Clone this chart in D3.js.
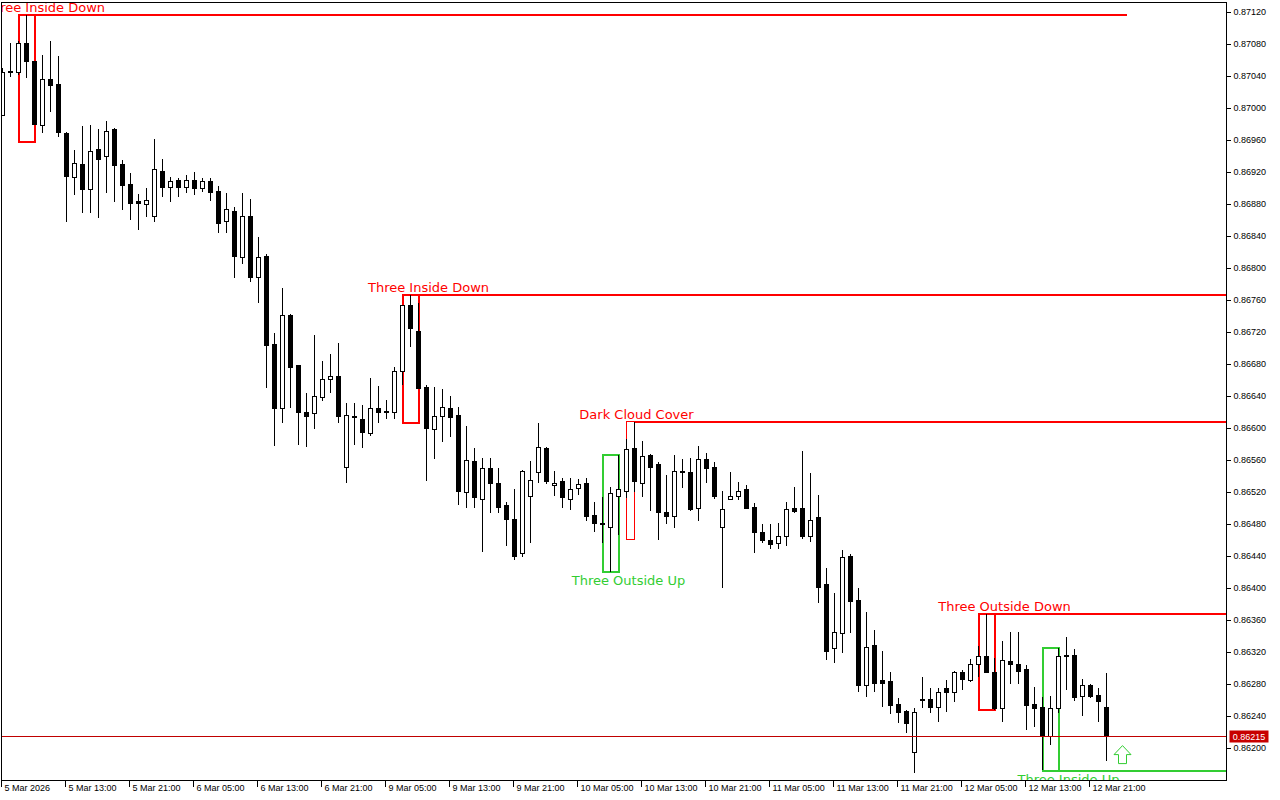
<!DOCTYPE html>
<html>
<head>
<meta charset="utf-8">
<title>H1 candlestick patterns</title>
<script src="https://cdn.jsdelivr.net/npm/d3@7"></script>
<style>
    body { margin: 0; background: #ffffff; }
    svg { display: block; }
    .axis text { font-family: 'Liberation Sans', Arial, sans-serif; font-size: 9px; fill: #000; }
    .axis line { stroke: #000; shape-rendering: crispEdges; }
    .pattern-label { font-family: 'DejaVu Sans', Verdana, sans-serif; font-size: 13px; }
    .candle line, .candle rect, .pattern rect, .pattern line { shape-rendering: crispEdges; }
</style>
</head>
<body>
<div id="chart"></div>
<script>
// time labels, one every 8 bars (H1)
const timeLabels = ['5 Mar 2026', '5 Mar 13:00', '5 Mar 21:00', '6 Mar 05:00', '6 Mar 13:00', '6 Mar 21:00',
    '9 Mar 05:00', '9 Mar 13:00', '9 Mar 21:00', '10 Mar 05:00', '10 Mar 13:00', '10 Mar 21:00',
    '11 Mar 05:00', '11 Mar 13:00', '11 Mar 21:00', '12 Mar 05:00', '12 Mar 13:00', '12 Mar 21:00'];

// price scale ticks
const priceTicks = [0.87120, 0.87080, 0.87040, 0.87000, 0.86960, 0.86920, 0.86880, 0.86840, 0.86800, 0.86760,
    0.86720, 0.86680, 0.86640, 0.86600, 0.86560, 0.86520, 0.86480, 0.86440, 0.86400, 0.86360,
    0.86320, 0.86280, 0.86240, 0.86200];

// OHLC, bar 0 = 5 Mar 05:00
const opens = [0.86991, 0.87046, 0.87045, 0.87081, 0.87058, 0.86978, 0.87036, 0.87029, 0.86968, 0.86913,
    0.86929, 0.86898, 0.86948, 0.86939, 0.86973, 0.86930, 0.86904, 0.86883, 0.86880, 0.86864,
    0.86921, 0.86901, 0.86909, 0.86901, 0.86910, 0.86899, 0.86908, 0.86896, 0.86858, 0.86871,
    0.86813, 0.86865, 0.86788, 0.86814, 0.86704, 0.86625, 0.86741, 0.86678, 0.86620, 0.86618,
    0.86638, 0.86661, 0.86664, 0.86551, 0.86614, 0.86611, 0.86593, 0.86625, 0.86621, 0.86620,
    0.86671, 0.86753, 0.86721, 0.86651, 0.86598, 0.86614, 0.86625, 0.86616, 0.86520, 0.86558,
    0.86511, 0.86549, 0.86531, 0.86503, 0.86486, 0.86443, 0.86515, 0.86545, 0.86575, 0.86528,
    0.86533, 0.86511, 0.86524, 0.86531, 0.86491, 0.86481, 0.86476, 0.86515, 0.86521, 0.86574,
    0.86531, 0.86566, 0.86554, 0.86494, 0.86490, 0.86546, 0.86545, 0.86500, 0.86561, 0.86551,
    0.86476, 0.86511, 0.86514, 0.86523, 0.86501, 0.86469, 0.86459, 0.86456, 0.86465, 0.86499,
    0.86500, 0.86464, 0.86488, 0.86404, 0.86324, 0.86343, 0.86440, 0.86384, 0.86278, 0.86328,
    0.86284, 0.86283, 0.86254, 0.86246, 0.86195, 0.86259, 0.86261, 0.86251, 0.86274, 0.86270,
    0.86295, 0.86285, 0.86305, 0.86315, 0.86295, 0.86249, 0.86308, 0.86305, 0.86298, 0.86255,
    0.86251, 0.86214, 0.86249, 0.86316, 0.86316, 0.86264, 0.86278, 0.86266, 0.86251];
const highs = [0.87050, 0.87081, 0.87084, 0.87116, 0.87058, 0.87066, 0.87084, 0.87065, 0.86970, 0.86948,
    0.86978, 0.86979, 0.86974, 0.86984, 0.86975, 0.86935, 0.86919, 0.86893, 0.86900, 0.86961,
    0.86936, 0.86914, 0.86913, 0.86916, 0.86920, 0.86913, 0.86913, 0.86903, 0.86894, 0.86876,
    0.86894, 0.86886, 0.86839, 0.86818, 0.86719, 0.86775, 0.86743, 0.86678, 0.86644, 0.86716,
    0.86684, 0.86693, 0.86706, 0.86631, 0.86631, 0.86629, 0.86663, 0.86653, 0.86635, 0.86676,
    0.86753, 0.86766, 0.86756, 0.86654, 0.86651, 0.86649, 0.86640, 0.86626, 0.86603, 0.86575,
    0.86563, 0.86563, 0.86550, 0.86508, 0.86524, 0.86548, 0.86559, 0.86606, 0.86576, 0.86546,
    0.86538, 0.86538, 0.86536, 0.86538, 0.86508, 0.86514, 0.86526, 0.86566, 0.86586, 0.86608,
    0.86584, 0.86568, 0.86558, 0.86541, 0.86566, 0.86561, 0.86563, 0.86578, 0.86569, 0.86558,
    0.86521, 0.86545, 0.86533, 0.86529, 0.86506, 0.86480, 0.86480, 0.86481, 0.86508, 0.86526,
    0.86571, 0.86544, 0.86516, 0.86425, 0.86394, 0.86448, 0.86443, 0.86400, 0.86370, 0.86348,
    0.86321, 0.86295, 0.86263, 0.86248, 0.86250, 0.86289, 0.86275, 0.86275, 0.86285, 0.86296,
    0.86298, 0.86311, 0.86328, 0.86368, 0.86313, 0.86334, 0.86345, 0.86345, 0.86304, 0.86276,
    0.86264, 0.86265, 0.86325, 0.86339, 0.86324, 0.86286, 0.86280, 0.86275, 0.86294];
const lows = [0.86990, 0.87039, 0.87041, 0.87038, 0.86980, 0.86969, 0.86995, 0.86964, 0.86858, 0.86891,
    0.86869, 0.86869, 0.86863, 0.86894, 0.86883, 0.86873, 0.86860, 0.86848, 0.86864, 0.86858,
    0.86889, 0.86883, 0.86889, 0.86894, 0.86891, 0.86895, 0.86884, 0.86844, 0.86844, 0.86788,
    0.86805, 0.86783, 0.86756, 0.86650, 0.86578, 0.86606, 0.86625, 0.86579, 0.86576, 0.86599,
    0.86634, 0.86644, 0.86606, 0.86531, 0.86579, 0.86575, 0.86590, 0.86606, 0.86611, 0.86611,
    0.86654, 0.86701, 0.86649, 0.86534, 0.86561, 0.86583, 0.86589, 0.86504, 0.86500, 0.86500,
    0.86445, 0.86494, 0.86494, 0.86453, 0.86435, 0.86439, 0.86456, 0.86531, 0.86530, 0.86515,
    0.86500, 0.86498, 0.86516, 0.86484, 0.86470, 0.86456, 0.86420, 0.86466, 0.86513, 0.86520,
    0.86514, 0.86496, 0.86460, 0.86480, 0.86475, 0.86525, 0.86496, 0.86484, 0.86531, 0.86511,
    0.86400, 0.86510, 0.86510, 0.86499, 0.86444, 0.86456, 0.86449, 0.86449, 0.86453, 0.86494,
    0.86461, 0.86458, 0.86381, 0.86310, 0.86306, 0.86319, 0.86344, 0.86270, 0.86264, 0.86270,
    0.86251, 0.86243, 0.86231, 0.86219, 0.86169, 0.86250, 0.86244, 0.86233, 0.86245, 0.86258,
    0.86273, 0.86283, 0.86289, 0.86294, 0.86248, 0.86233, 0.86280, 0.86280, 0.86223, 0.86226,
    0.86173, 0.86204, 0.86244, 0.86273, 0.86259, 0.86240, 0.86263, 0.86233, 0.86184];
const closes = [0.87045, 0.87044, 0.87081, 0.87058, 0.86980, 0.87036, 0.87028, 0.86969, 0.86914, 0.86931,
    0.86898, 0.86946, 0.86936, 0.86971, 0.86928, 0.86903, 0.86881, 0.86881, 0.86884, 0.86923,
    0.86901, 0.86908, 0.86901, 0.86910, 0.86899, 0.86908, 0.86895, 0.86856, 0.86873, 0.86814,
    0.86864, 0.86788, 0.86813, 0.86703, 0.86625, 0.86741, 0.86676, 0.86619, 0.86615, 0.86639,
    0.86661, 0.86665, 0.86615, 0.86616, 0.86613, 0.86594, 0.86625, 0.86620, 0.86619, 0.86671,
    0.86753, 0.86724, 0.86649, 0.86600, 0.86614, 0.86626, 0.86613, 0.86521, 0.86559, 0.86513,
    0.86549, 0.86531, 0.86501, 0.86486, 0.86439, 0.86546, 0.86534, 0.86576, 0.86533, 0.86531,
    0.86513, 0.86523, 0.86530, 0.86490, 0.86481, 0.86480, 0.86518, 0.86523, 0.86573, 0.86533,
    0.86564, 0.86551, 0.86494, 0.86490, 0.86546, 0.86544, 0.86498, 0.86561, 0.86549, 0.86514,
    0.86498, 0.86515, 0.86521, 0.86500, 0.86469, 0.86460, 0.86454, 0.86465, 0.86498, 0.86496,
    0.86464, 0.86485, 0.86401, 0.86321, 0.86344, 0.86438, 0.86383, 0.86278, 0.86326, 0.86281,
    0.86281, 0.86253, 0.86245, 0.86231, 0.86245, 0.86261, 0.86251, 0.86269, 0.86270, 0.86294,
    0.86286, 0.86305, 0.86315, 0.86295, 0.86249, 0.86310, 0.86305, 0.86296, 0.86253, 0.86249,
    0.86214, 0.86249, 0.86315, 0.86314, 0.86263, 0.86278, 0.86264, 0.86258, 0.86215];

// detected patterns: bar range, box prices, where the level line stops, where the label sits (bar index)
const patterns = [
    { name: 'Three Inside Down', first: 2, last: 4, high: 0.87116, low: 0.86958, bull: false, lineTo: 140.56, labelAt: 5.25 },
    { name: 'Three Inside Down', first: 50, last: 52, high: 0.86766, low: 0.86606, bull: false, lineTo: 153, labelAt: 53.25 },
    { name: 'Three Outside Up', first: 75, last: 77, high: 0.86566, low: 0.86420, bull: true, lineTo: null, labelAt: 78.25 },
    { name: 'Dark Cloud Cover', first: 78, last: 79, high: 0.86608, low: 0.86461, bull: false, lineTo: 153, labelAt: 79.25 },
    { name: 'Three Outside Down', first: 122, last: 124, high: 0.86368, low: 0.86248, bull: false, lineTo: 153, labelAt: 125.25 },
    { name: 'Three Inside Up', first: 130, last: 132, high: 0.86325, low: 0.86171, bull: true, lineTo: 153, labelAt: 133.25 }
];

// buy signal arrow
const signalBar = 140;
const signalPrice = 0.86203;

const BEAR = '#ff0000', BULL = '#32cd32';

class CandleChart
{
    // Attributes
    width; height; frame;           // size, frame = [left, top, right, bottom] pixel lines
    svg; body; axisX; axisY;        // selections
    scaleX; scaleY;

    constructor(container, width, height, frame) {
        this.width = width;
        this.height = height;
        this.frame = frame;

        this.svg = d3.select(container)
            .append('svg')
            .attr('width', width)
            .attr('height', height);

        // plot area clip, everything inside the frame
        this.svg.append('defs').append('clipPath').attr('id', 'plot-clip')
            .append('rect')
            .attr('x', frame[0] + 1).attr('y', frame[1] + 1)
            .attr('width', frame[2] - frame[0] - 1)
            .attr('height', frame[3] - frame[1] - 1);

        this.body = this.svg.append('g').attr('clip-path', 'url(#plot-clip)');

        this.axisX = this.svg.append('g').classed('axis', true)
            .attr('transform', `translate(-1, ${frame[3] + 0.5})`);
        this.axisY = this.svg.append('g').classed('axis', true)
            .attr('transform', `translate(${frame[2] + 0.5}, 0.5)`);
    }

    #updateScales() {
        // 8 px per bar, price 0.001 = 80 px
        this.scaleX = d3.scaleLinear([0, 152], [2.5, 2.5 + 152 * 8]);
        this.scaleY = d3.scaleLinear([0.86200, 0.87120], [748, 12]);
    }

    #updateAxes() {
        let axisGenX = d3.axisBottom(this.scaleX)
            .tickValues(timeLabels.map((d, i) => i * 8))
            .tickFormat((d, i) => timeLabels[i])
            .tickSize(6)
            .offset(0);
        this.axisX.call(axisGenX);
        this.axisX.select('.domain').remove();
        this.axisX.selectAll('text')
            .attr('text-anchor', 'start')
            .attr('x', 3)
            .attr('y', 4);

        let axisGenY = d3.axisRight(this.scaleY)
            .tickValues(priceTicks)
            .tickFormat(d3.format('.5f'))
            .tickSize(4)
            .tickPadding(3)
            .offset(0);
        this.axisY.call(axisGenY);
        this.axisY.select('.domain').remove();
    }

    #updatePatterns() {
        const x = this.scaleX, y = this.scaleY;
        let g = this.body.append('g').classed('pattern', true);

        patterns.forEach(p => {
            let color = p.bull ? BULL : BEAR;
            g.append('rect')
                .attr('x', x(p.first))
                .attr('y', y(p.high))
                .attr('width', x(p.last) - x(p.first))
                .attr('height', y(p.low) - y(p.high))
                .attr('fill', 'none')
                .attr('stroke', color)
                .attr('stroke-width', p.last - p.first > 1 ? 2 : 1);

            // level line from the pattern to the right
            let level = p.bull ? p.low : p.high;
            if (p.lineTo !== null) {
                g.append('line')
                    .attr('x1', x(p.last)).attr('x2', x(p.lineTo))
                    .attr('y1', y(level)).attr('y2', y(level))
                    .attr('stroke', color)
                    .attr('stroke-width', 2);
            }

            g.append('text')
                .classed('pattern-label', true)
                .attr('x', x(p.labelAt))
                .attr('y', p.bull ? y(p.low) + 13 : y(p.high) - 3)
                .attr('text-anchor', 'middle')
                .attr('fill', color)
                .text(p.name);
        });
    }

    #updateCandles() {
        const x = this.scaleX, y = this.scaleY;
        let bars = closes.map((c, i) => ({ i, o: opens[i], h: highs[i], l: lows[i], c }));

        let g = this.body.append('g').classed('candle', true);
        g.selectAll('line.wick')
            .data(bars)
            .join('line')
            .classed('wick', true)
            .attr('x1', d => x(d.i)).attr('x2', d => x(d.i))
            .attr('y1', d => y(d.h)).attr('y2', d => y(d.l))
            .attr('stroke', '#000');

        g.selectAll('rect.body')
            .data(bars)
            .join('rect')
            .classed('body', true)
            .attr('x', d => x(d.i) - 2)
            .attr('width', 4)
            .attr('y', d => y(Math.max(d.o, d.c)))
            .attr('height', d => Math.max(Math.abs(y(d.o) - y(d.c)), 0.01))
            .attr('fill', d => d.c >= d.o ? '#fff' : '#000')
            .attr('stroke', '#000');
    }

    #updateMarkers() {
        const x = this.scaleX, y = this.scaleY;
        let last = closes[closes.length - 1];

        // current price line
        this.body.append('line')
            .attr('x1', this.frame[0]).attr('x2', this.frame[2])
            .attr('y1', Math.round(y(last)) + 0.5).attr('y2', Math.round(y(last)) + 0.5)
            .attr('stroke', '#c00000');

        // up arrow
        let ax = x(signalBar), ay = y(signalPrice);
        let arrow = [[0, 0], [8.5, 9], [4, 9], [4, 18], [-4, 18], [-4, 9], [-8.5, 9]]
            .map(([dx, dy]) => [ax + dx, ay + dy]);
        this.body.append('path')
            .attr('d', d3.line()(arrow) + 'Z')
            .attr('fill', '#fff')
            .attr('stroke', BULL);

        // price tag on the axis
        let py = Math.round(y(last)) + 0.5;
        this.svg.append('rect')
            .attr('x', this.frame[2] + 3.5).attr('y', py - 6)
            .attr('width', 39).attr('height', 12)
            .attr('fill', '#c80000');
        this.svg.append('text')
            .attr('x', this.frame[2] + 23).attr('y', py)
            .attr('dy', '0.35em')
            .attr('text-anchor', 'middle')
            .style('font-family', "'Liberation Sans', Arial, sans-serif")
            .style('font-size', '9px')
            .attr('fill', '#fff')
            .text(d3.format('.5f')(last));
    }

    #drawFrame() {
        const f = this.frame;
        this.svg.append('rect')
            .attr('x', f[0] + 0.5).attr('y', f[1] + 0.5)
            .attr('width', f[2] - f[0]).attr('height', f[3] - f[1])
            .attr('fill', 'none')
            .attr('stroke', '#000');
    }

    // Public API
    render() {
        this.#updateScales();
        this.#updatePatterns();
        this.#updateCandles();
        this.#updateMarkers();
        this.#updateAxes();
        this.#drawFrame();
        return this;
    }
}

new CandleChart('#chart', 1280, 800, [1, 2, 1226, 780]).render();
</script>
</body>
</html>
